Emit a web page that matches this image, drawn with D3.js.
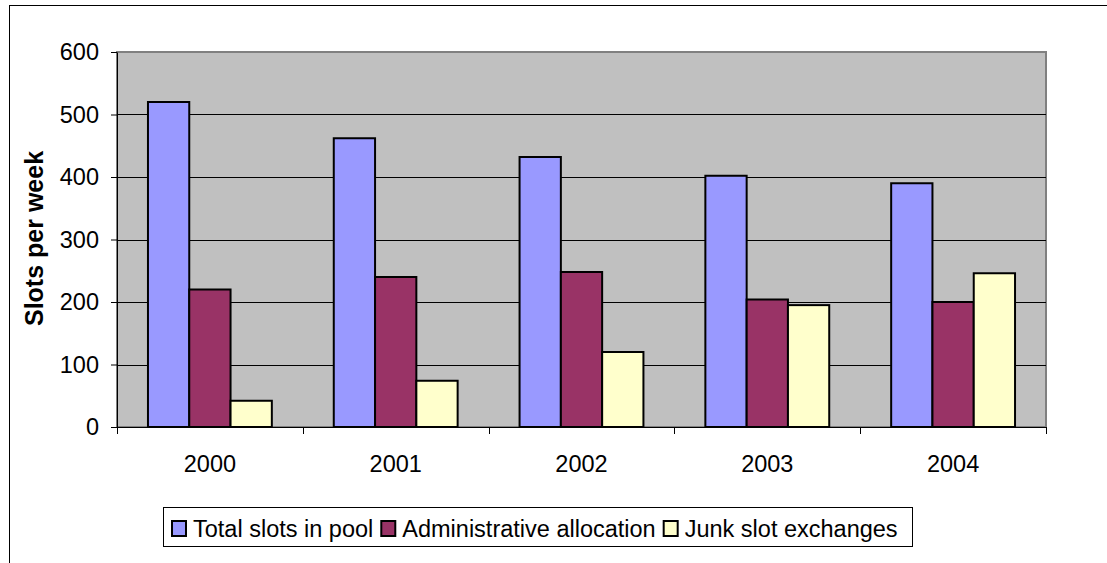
<!DOCTYPE html>
<html>
<head>
<meta charset="utf-8">
<script src="https://cdn.jsdelivr.net/npm/d3@7"></script>
<style>
  body { margin: 0; background: #fff; }
  svg { display: block; font-family: "Liberation Sans", Arial, sans-serif; }
</style>
</head>
<body>
<svg id="chart"></svg>
<script>
// chart values
const years = ['2000', '2001', '2002', '2003', '2004'];
const seriesNames = ['Total slots in pool', 'Administrative allocation', 'Junk slot exchanges'];
const totalSlots = [520, 462, 432, 402, 390];
const adminAlloc = [220, 240, 248, 204, 200];
const junkExchanges = [42, 74, 120, 195, 246];
const yTicks = [0, 100, 200, 300, 400, 500, 600];

const seriesValues = [totalSlots, adminAlloc, junkExchanges];
const colors = ['#9999ff', '#993366', '#ffffcc'];

const W = 1107, H = 563;
const margin = { top: 52, left: 117, right: 61, bottom: 136 };
const width = W - margin.left - margin.right;
const height = H - margin.top - margin.bottom;
const fontSize = 23.5;

const svg = d3.select('#chart').attr('width', W).attr('height', H);

// outer chart border
svg.append('rect')
  .attr('x', 9.5).attr('y', 5.5)
  .attr('width', W + 10).attr('height', H + 10)
  .attr('fill', '#fff')
  .attr('stroke', '#000')
  .attr('stroke-width', 1);

const g = svg.append('g').attr('transform', `translate(${margin.left},${margin.top})`);

const x0 = d3.scaleBand().domain(years).range([0, width]).padding(0);
const x1 = d3.scaleBand().domain(seriesNames).range([0, x0.bandwidth()])
  .paddingInner(0).paddingOuter(0.75);
const y = d3.scaleLinear().domain([0, 600]).range([height, 0]);

// plot background
g.append('rect')
  .attr('width', width).attr('height', height)
  .attr('fill', '#c0c0c0')
  .attr('stroke', '#808080')
  .attr('stroke-width', 2);

// gridlines
g.append('g')
  .selectAll('line')
  .data(yTicks.filter(d => d > 0 && d < 600))
  .enter()
  .append('line')
  .attr('x1', 0).attr('x2', width)
  .attr('y1', d => Math.round(y(d)) + 0.5)
  .attr('y2', d => Math.round(y(d)) + 0.5)
  .attr('stroke', '#000')
  .attr('stroke-width', 1);

// bars
const rows = years.map((yr, i) => ({
  year: yr,
  vals: seriesNames.map((s, j) => ({ name: s, value: seriesValues[j][i], color: colors[j] })),
}));

const groups = g.selectAll('.grp')
  .data(rows)
  .enter()
  .append('g')
  .attr('class', 'grp')
  .attr('transform', d => `translate(${x0(d.year)},0)`);

groups.selectAll('rect')
  .data(d => d.vals)
  .enter()
  .append('rect')
  .attr('x', d => x1(d.name))
  .attr('y', d => y(d.value))
  .attr('width', x1.bandwidth())
  .attr('height', d => height - y(d.value))
  .attr('fill', d => d.color)
  .attr('stroke', '#000')
  .attr('stroke-width', 2);

// y axis
const yAxis = g.append('g')
  .call(d3.axisLeft(y).tickValues(yTicks).tickSize(6).tickSizeOuter(0).tickPadding(12));
yAxis.select('.domain').attr('stroke', '#000').attr('stroke-width', 1);
yAxis.selectAll('.tick line').attr('stroke', '#000');
yAxis.selectAll('text')
  .attr('font-size', fontSize)
  .attr('fill', '#000')
  .attr('font-family', '"Liberation Sans", Arial, sans-serif');

// x axis
const xAxis = g.append('g')
  .attr('transform', `translate(0,${height})`)
  .call(d3.axisBottom(x0).tickSize(0).tickSizeOuter(0).tickPadding(28));
xAxis.select('.domain').attr('stroke', '#000').attr('stroke-width', 1)
  .attr('d', `M-6,0.5H${width + 1}`);
xAxis.selectAll('text')
  .attr('font-size', fontSize)
  .attr('fill', '#000')
  .attr('font-family', '"Liberation Sans", Arial, sans-serif');

const boundaries = d3.range(years.length + 1).map(i => i * x0.step());
xAxis.selectAll('.bnd')
  .data(boundaries)
  .enter()
  .append('line')
  .attr('class', 'bnd')
  .attr('x1', d => Math.round(d) + 0.5).attr('x2', d => Math.round(d) + 0.5)
  .attr('y1', 0).attr('y2', 7)
  .attr('stroke', '#000');

// y axis title
svg.append('text')
  .attr('transform', `translate(43,${margin.top + height / 2 - 1}) rotate(-90)`)
  .attr('text-anchor', 'middle')
  .attr('font-size', 25)
  .attr('font-weight', 'bold')
  .text('Slots per week');

// legend
const legend = svg.append('g').attr('transform', 'translate(163,507)');
legend.append('rect')
  .attr('x', 0.5).attr('y', 0.5)
  .attr('width', 749).attr('height', 39)
  .attr('fill', '#fff')
  .attr('stroke', '#000')
  .attr('stroke-width', 1);

const items = legend.selectAll('.item')
  .data(seriesNames)
  .enter()
  .append('g')
  .attr('class', 'item');

items.append('rect')
  .attr('x', 1).attr('y', 14)
  .attr('width', 14).attr('height', 15)
  .attr('fill', (d, i) => colors[i])
  .attr('stroke', '#000')
  .attr('stroke-width', 2);

items.append('text')
  .attr('x', 22)
  .attr('y', 29.5)
  .attr('font-size', fontSize)
  .text(d => d);

// lay the legend entries out one after another
let lx = 8;
items.each(function () {
  const item = d3.select(this);
  item.attr('transform', `translate(${lx},0)`);
  lx += 22 + item.select('text').node().getComputedTextLength() + 7;
});
</script>
</body>
</html>
